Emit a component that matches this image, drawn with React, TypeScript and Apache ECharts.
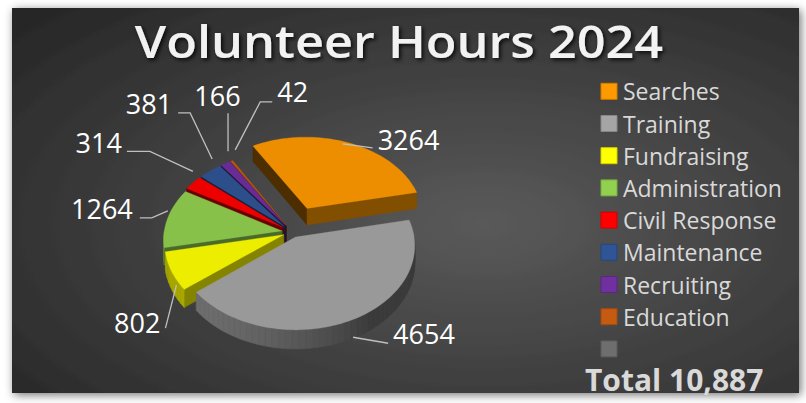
import React, { useEffect, useRef } from 'react';
import * as echarts from 'echarts';

const chartTitle = 'Volunteer Hours 2024';
const categories = ['Searches', 'Training', 'Fundraising', 'Administration', 'Civil Response', 'Maintenance', 'Recruiting', 'Education', ''];
const hours = [3264, 4654, 802, 1264, 314, 381, 166, 42, 0];
const sliceColors = ['#FF9900', '#A5A5A5', '#FFFF00', '#92D050', '#FF0000', '#2F5597', '#7030A0', '#C55A11', '#6E6E6E'];

// ---- style / layout (not data) ----
const FIRST_ANGLE = -30; // degrees clockwise from 12 o'clock
const explodeBy = [38, 8, 9, 10, 11, 11, 11, 11, 0];
type LabelLayout = { dx: number; dy: number; align: string; line: number[][] };
const labelLayout: LabelLayout[] = [
  { dx: 29, dy: -3, align: 'left', line: [[-6, 1], [24, 5]] },
  { dx: 42, dy: 13, align: 'left', line: [[2, 17], [37, 23]] },
  { dx: -11, dy: 51, align: 'right', line: [[5, 14], [-6, 57]] },
  { dx: -35, dy: -9.5, align: 'right', line: [[0, -7], [-16, 0], [-28, 0]] },
  { dx: -71, dy: -40.5, align: 'right', line: [[0, -11.5], [-43, -31.5], [-66, -31.5]] },
  { dx: -38, dy: -67.5, align: 'right', line: [[2, -12], [-20, -58], [-32, -58]] },
  { dx: -8, dy: -68, align: 'center', line: [[2.5, -12], [2.5, -50]] },
  { dx: 45.5, dy: -69, align: 'left', line: [[3.5, -11], [28.5, -59], [40.5, -59]] },
  { dx: 0, dy: 0, align: 'left', line: [] },
];

const CX = 292, CY = 232, RAD = 118, TILT = 0.7, PERSP = 1200, DEPTH = 17;

const total = hours.reduce((a, b) => a + b, 0);
const startAngles: number[] = [];
{
  let acc = FIRST_ANGLE;
  hours.forEach((v) => {
    startAngles.push(acc);
    acc += (v / total) * 360;
  });
}

const toRad = (d: number) => (d * Math.PI) / 180;
function project(X: number, Y: number, h: number): number[] {
  const s = 1 / (1 - Y / PERSP);
  return [CX + X * s, CY + (Y * TILT + h) * s];
}
function shade(hex: string, f: number): string {
  const n = parseInt(hex.slice(1), 16);
  const r = Math.min(255, Math.round(((n >> 16) & 255) * f));
  const g = Math.min(255, Math.round(((n >> 8) & 255) * f));
  const b = Math.min(255, Math.round((n & 255) * f));
  return `rgb(${r},${g},${b})`;
}

const renderItem = (params: any, api: any) => {
  const i = params.dataIndex;
  const v = api.value(0);
  if (!v) return { type: 'group', children: [] };
  const a0 = startAngles[i];
  const a1 = a0 + (v / total) * 360;
  const m = (a0 + a1) / 2;
  const e = explodeBy[i];
  const ox = e * Math.sin(toRad(m));
  const oy = -e * Math.cos(toRad(m));
  const pt = (th: number, r: number, h: number) =>
    project(ox + r * Math.sin(toRad(th)), oy - r * Math.cos(toRad(th)), h);
  const arc = (t0: number, t1: number, h: number) => {
    const n = Math.max(2, Math.ceil((t1 - t0) / 2));
    const pts: number[][] = [];
    for (let k = 0; k <= n; k++) pts.push(pt(t0 + ((t1 - t0) * k) / n, RAD, h));
    return pts;
  };
  const base = sliceColors[i];
  const children: any[] = [];

  // top face
  children.push({
    type: 'polygon',
    z2: 1000,
    shape: { points: [pt(0, 0, 0), ...arc(a0, a1, 0)] },
    style: { fill: shade(base, 0.93), stroke: shade(base, 0.93), lineWidth: 0.3 },
  });

  // radial walls facing the viewer
  const radial = (th: number, normal: number) => {
    const f = 0.3 + 0.22 * Math.max(0, Math.cos(toRad(normal - 150)));
    const c = shade(base, f);
    const yc = oy - (RAD * Math.cos(toRad(th))) / 2;
    children.push({
      type: 'polygon',
      z2: 500 + yc,
      shape: { points: [pt(0, 0, 0), pt(th, RAD, 0), pt(th, RAD, DEPTH), pt(0, 0, DEPTH)] },
      style: { fill: c, stroke: c, lineWidth: 0.5 },
    });
  };
  if (Math.sin(toRad(a1)) > 0) radial(a1, a1 + 90);
  if (Math.sin(toRad(a0)) < 0) radial(a0, a0 - 90);

  // outer curved wall (front half)
  const w0 = Math.max(a0, 90);
  const w1 = Math.min(a1, 270);
  if (w1 > w0) {
    const n = Math.max(1, Math.ceil((w1 - w0) / 3));
    for (let k = 0; k < n; k++) {
      const t0 = w0 + ((w1 - w0) * k) / n;
      const t1 = w0 + ((w1 - w0) * (k + 1)) / n;
      const tm = (t0 + t1) / 2;
      const f = 0.36 + 0.3 * Math.max(0, Math.cos(toRad(tm - 235)));
      const c = shade(base, f);
      const top = arc(t0, t1, 0);
      const bot = arc(t0, t1, DEPTH).reverse();
      children.push({
        type: 'polygon',
        z2: 500 + (oy - RAD * Math.cos(toRad(tm))),
        shape: { points: [...top, ...bot] },
        style: { fill: c, stroke: c, lineWidth: 0.6 },
      });
    }
  }

  // label + leader
  const lay = labelLayout[i];
  const anchor = pt(m, RAD, 0);
  if (lay.line.length) {
    children.push({
      type: 'polyline',
      z2: 2000,
      shape: { points: lay.line.map((p) => [anchor[0] + p[0], anchor[1] + p[1]]) },
      style: { stroke: '#BFBFBF', lineWidth: 1.3, fill: 'none' },
    });
  }
  children.push({
    type: 'text',
    z2: 2001,
    x: anchor[0] + lay.dx,
    y: anchor[1] + lay.dy,
    style: {
      text: String(v),
      fill: '#FFFFFF',
      font: '27px "Open Sans"',
      align: lay.align,
      verticalAlign: 'middle',
    },
  });

  return { type: 'group', children };
};

export default function App() {
  const ref = useRef<HTMLDivElement>(null);
  useEffect(() => {
    if (!ref.current) return;
    const chart = echarts.init(ref.current, undefined, { renderer: 'svg' });

    const legendEls: any[] = [];
    categories.forEach((name, i) => {
      const y = 83.3 + i * 32.2;
      legendEls.push({
        type: 'rect',
        z: 10,
        shape: { x: 601, y, width: 16, height: 16 },
        style: { fill: sliceColors[i], stroke: shade(sliceColors[i], 0.82), lineWidth: 1 },
      });
      if (name) {
        legendEls.push({
          type: 'text',
          z: 10,
          x: 623,
          y: y + 8,
          style: { text: name, fill: '#D9D9D9', font: '23px "Open Sans"', align: 'left', verticalAlign: 'middle' },
        });
      }
    });

    const option: any = {
      animation: false,
      graphic: {
        elements: [
          {
            type: 'rect',
            z: 0,
            shape: { x: 12, y: 8, width: 787, height: 385 },
            style: {
              fill: new echarts.graphic.RadialGradient(0.6, 0.56, 0.8, [
                { offset: 0, color: '#5a5a5a' },
                { offset: 1, color: '#262626' },
              ]),
              shadowBlur: 10,
              shadowColor: 'rgba(0,0,0,0.55)',
              shadowOffsetX: 2,
              shadowOffsetY: 2,
            },
          },
          {
            type: 'text',
            z: 10,
            x: 399,
            y: 41,
            scaleX: 1.12,
            style: {
              text: chartTitle,
              fill: '#F2F2F2',
              font: '600 45px "Open Sans"',
              align: 'center',
              verticalAlign: 'middle',
              textShadowColor: 'rgba(0,0,0,0.85)',
              textShadowBlur: 4,
              textShadowOffsetX: 2,
              textShadowOffsetY: 2,
            },
          },
          ...legendEls,
          {
            type: 'text',
            z: 10,
            x: 585,
            y: 379,
            style: {
              text: `Total ${total.toLocaleString('en-US')}`,
              fill: '#D9D9D9',
              font: 'bold 30px "Open Sans"',
              align: 'left',
              verticalAlign: 'middle',
            },
          },
        ],
      },
      series: [
        {
          type: 'custom',
          coordinateSystem: 'none',
          silent: true,
          z: 5,
          renderItem,
          data: hours.map((v, i) => ({ name: categories[i], value: v })),
        },
      ],
    };
    chart.setOption(option);
    return () => chart.dispose();
  }, []);
  return <div ref={ref} style={{ position: 'absolute', left: 0, top: 0, width: 806, height: 403 }} />;
}
